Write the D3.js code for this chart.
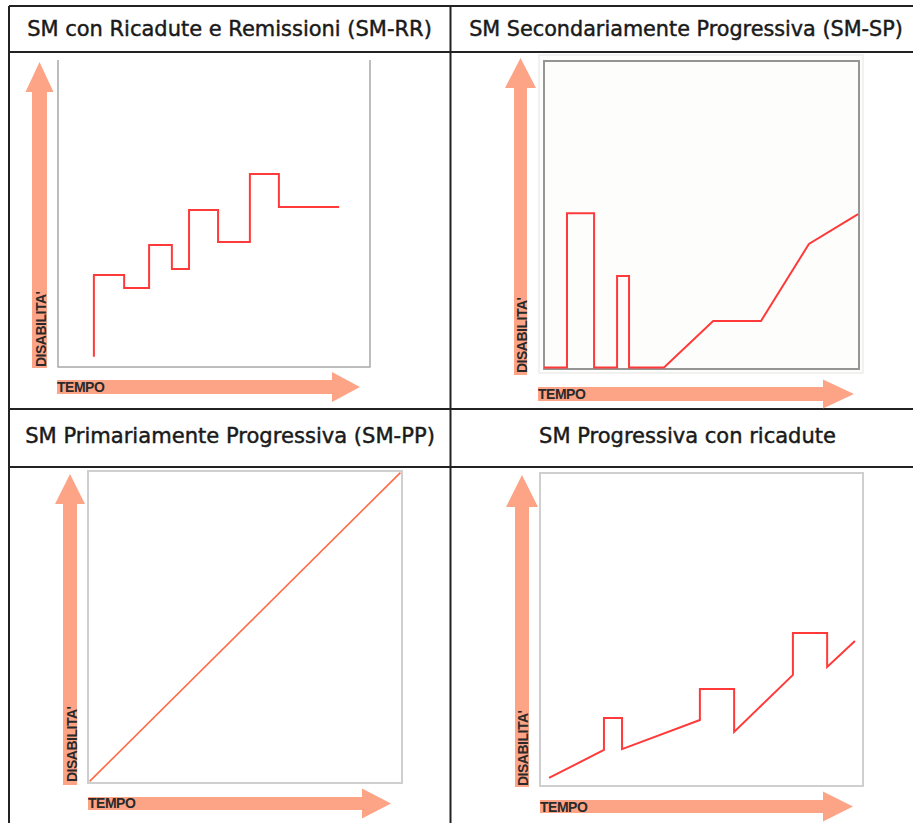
<!DOCTYPE html>
<html>
<head>
<meta charset="utf-8">
<script src="https://cdn.jsdelivr.net/npm/d3@7"></script>
<style>
  body { margin: 0; background: #fff; }
  svg { display: block; }
</style>
</head>
<body>
<svg id="chart" width="913" height="823"></svg>
<script>
// titles of the four cells
const titles = [
  "SM con Ricadute e Remissioni (SM-RR)",
  "SM Secondariamente Progressiva (SM-SP)",
  "SM Primariamente Progressiva (SM-PP)",
  "SM Progressiva con ricadute"
];
const yLabel = "DISABILITA'";
const xLabel = "TEMPO";

// tempo / disabilita' (0-100)
const rrTempo = [11.5, 11.5, 21.2, 21.2, 29.2, 29.2, 36.5, 36.5, 42, 42, 51.3, 51.3, 61.5, 61.5, 70.8, 70.8, 90.1];
const rrDisab = [3.3, 30, 30, 25.7, 25.7, 39.7, 39.7, 31.9, 31.9, 51.1, 51.1, 40.7, 40.7, 62.9, 62.9, 52.1, 52.1];

const spTempo = [0, 7.3, 7.3, 15.9, 15.9, 23.2, 23.2, 27, 27, 38.1, 53.7, 68.9, 84.1, 99.7];
const spDisab = [0.5, 0.5, 50.6, 50.6, 0.5, 0.5, 30.2, 30.2, 0.5, 0.5, 15.6, 15.6, 40.6, 50.3];

const ppTempo = [0.5, 99.5];
const ppDisab = [0.5, 99.5];

const prTempo = [2.8, 19.8, 19.8, 25.4, 25.4, 49.5, 49.5, 60.1, 60.1, 78.3, 78.3, 88.9, 88.9, 97.5];
const prDisab = [2.6, 11.5, 21.7, 21.7, 11.8, 21.1, 31, 31, 17.3, 35.5, 48.9, 48.9, 38, 46.3];

const svg = d3.select("#chart");
const arrowColor = "#fda487";

// table grid
const grid = svg.append("g").attr("stroke", "#222").attr("stroke-width", 2);
[[9, 6, 913, 6], [9, 52, 913, 52], [9, 409, 913, 409], [9, 467, 913, 467],
 [9, 6, 9, 823], [450.5, 6, 450.5, 823]].forEach(l => {
  grid.append("line").attr("x1", l[0]).attr("y1", l[1]).attr("x2", l[2]).attr("y2", l[3]);
});

// title cells
const titlePos = [
  {cx: 229.5, y: 36, w: 405},
  {cx: 686, y: 36, w: 434},
  {cx: 230, y: 443, w: 410},
  {cx: 687.5, y: 443, w: 297}
];
titles.forEach((t, i) => {
  const p = titlePos[i];
  const txt = svg.append("text")
    .attr("x", p.cx).attr("y", p.y)
    .attr("text-anchor", "middle")
    .attr("font-family", "DejaVu Sans, sans-serif")
    .attr("font-size", 16)
    .attr("fill", "#1a1a1a")
    .attr("stroke", "#1a1a1a")
    .attr("stroke-width", 0.45)
    .text(t);
  const len = txt.node().getComputedTextLength();
  txt.attr("font-size", 16 * p.w / len);
});

const panels = [
  {tempo: rrTempo, disab: rrDisab, color: "#ff3a3a", lw: 2,
   frame: {x0: 58, x1: 370, y0: 60, y1: 367, style: "open"},
   v: {cx: 39.5, w: 15, bottom: 368, base: 92, tip: 62, half: 14},
   h: {cy: 387, w: 14, left: 57, base: 332, tip: 360, half: 15},
   yl: {x: 46, y: 367}, xl: {x: 57, y: 392}},
  {tempo: spTempo, disab: spDisab, color: "#ff3a3a", lw: 2,
   frame: {x0: 544, x1: 859, y0: 61, y1: 369, style: "double"},
   v: {cx: 520.5, w: 13, bottom: 375, base: 88, tip: 58, half: 15.5},
   h: {cy: 394, w: 14, left: 538, base: 823, tip: 854, half: 14.5},
   yl: {x: 527, y: 373}, xl: {x: 538, y: 399}},
  {tempo: ppTempo, disab: ppDisab, color: "#ff6a45", lw: 1.6,
   frame: {x0: 88, x1: 402, y0: 471, y1: 783, style: "box"},
   v: {cx: 70, w: 14, bottom: 785, base: 504, tip: 474, half: 15},
   h: {cy: 803.5, w: 13, left: 88, base: 362, tip: 391, half: 15},
   yl: {x: 77, y: 782}, xl: {x: 88, y: 808}},
  {tempo: prTempo, disab: prDisab, color: "#ff3a3a", lw: 2,
   frame: {x0: 540, x1: 863, y0: 473, y1: 786, style: "box"},
   v: {cx: 522, w: 14, bottom: 787, base: 507, tip: 475, half: 16},
   h: {cy: 806.5, w: 13, left: 540, base: 823, tip: 853, half: 15},
   yl: {x: 528, y: 786}, xl: {x: 540, y: 812}}
];

panels.forEach(p => {
  const g = svg.append("g");
  const f = p.frame;

  // frame
  if (f.style === "open") {
    g.append("path")
      .attr("d", `M${f.x0},${f.y0}V${f.y1}H${f.x1}V${f.y0}`)
      .attr("fill", "none").attr("stroke", "#a8a8a8").attr("stroke-width", 1.5);
  } else if (f.style === "double") {
    g.append("rect").attr("x", f.x0 - 5).attr("y", f.y0 - 6)
      .attr("width", f.x1 - f.x0 + 9).attr("height", f.y1 - f.y0 + 10)
      .attr("fill", "#fdfefc").attr("stroke", "#e4e4e4").attr("stroke-width", 1);
    g.append("rect").attr("x", f.x0).attr("y", f.y0)
      .attr("width", f.x1 - f.x0).attr("height", f.y1 - f.y0)
      .attr("fill", "#fdfefc").attr("stroke", "#959595").attr("stroke-width", 2);
  } else {
    g.append("rect").attr("x", f.x0).attr("y", f.y0)
      .attr("width", f.x1 - f.x0).attr("height", f.y1 - f.y0)
      .attr("fill", "#fff").attr("stroke", "#cfcfcf").attr("stroke-width", 2);
  }

  // arrows
  const v = p.v;
  g.append("path")
    .attr("d", `M${v.cx - v.w / 2},${v.bottom}V${v.base}H${v.cx - v.half}L${v.cx},${v.tip}` +
               `L${v.cx + v.half},${v.base}H${v.cx + v.w / 2}V${v.bottom}Z`)
    .attr("fill", arrowColor);
  const h = p.h;
  g.append("path")
    .attr("d", `M${h.left},${h.cy - h.w / 2}H${h.base}V${h.cy - h.half}L${h.tip},${h.cy}` +
               `L${h.base},${h.cy + h.half}V${h.cy + h.w / 2}H${h.left}Z`)
    .attr("fill", arrowColor);

  // axis labels
  g.append("text")
    .attr("transform", `translate(${p.yl.x},${p.yl.y}) rotate(-90)`)
    .attr("font-family", "Liberation Sans, Arial, sans-serif")
    .attr("font-size", 14).attr("font-weight", "bold")
    .attr("letter-spacing", -0.5)
    .attr("fill", "#2a2a2a")
    .text(yLabel);
  g.append("text")
    .attr("x", p.xl.x).attr("y", p.xl.y)
    .attr("font-family", "Liberation Sans, Arial, sans-serif")
    .attr("font-size", 14).attr("font-weight", "bold")
    .attr("letter-spacing", -0.5)
    .attr("fill", "#2a2a2a")
    .text(xLabel);

  // curve
  const x = d3.scaleLinear().domain([0, 100]).range([f.x0, f.x1]);
  const y = d3.scaleLinear().domain([0, 100]).range([f.y1, f.y0]);
  const pts = p.tempo.map((t, i) => [t, p.disab[i]]);
  const line = d3.line().x(d => x(d[0])).y(d => y(d[1]));
  g.append("path")
    .datum(pts)
    .attr("d", line)
    .attr("fill", "none")
    .attr("stroke", p.color)
    .attr("stroke-width", p.lw)
    .attr("stroke-linejoin", "miter");
});
</script>
</body>
</html>
